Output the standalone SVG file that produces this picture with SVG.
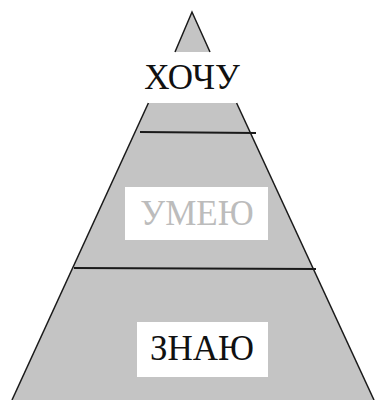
<svg xmlns="http://www.w3.org/2000/svg" width="380" height="400" viewBox="0 0 380 400">
<style>
.fill{fill:#c4c4c4;stroke:none}
.edge{stroke:#1a1a1a;stroke-width:1.5;fill:none}
.div{stroke:#1a1a1a;stroke-width:2}
.box{fill:#ffffff}
.lbl{font-family:"Liberation Serif","Times New Roman",serif;font-size:35px;text-anchor:middle}
</style>
<rect width="380" height="400" fill="#ffffff"/>
<g id="khochu">
<polygon class="fill" points="192,12 175,52 210,52"/>
<polyline class="edge" points="175,52 192,12 210,52"/>
<polygon class="fill" points="148.4,103 236.6,103 250,132 135,132"/>
<text class="lbl" x="192" y="89" fill="#111111">ХОЧУ</text>
</g>
<g id="umeyu">
<polygon class="fill" points="135,132 250,132 313,268 72.5,268"/>
<rect class="box" x="125" y="187" width="143" height="53"/>
<text class="lbl" x="197" y="225" fill="#bcbcbc">УМЕЮ</text>
</g>
<g id="znayu">
<polygon class="fill" points="72.5,268 313,268 374,400 12,400"/>
<rect class="box" x="137" y="322" width="131" height="55"/>
<text class="lbl" x="202" y="360" fill="#111111">ЗНАЮ</text>
</g>
<g id="connectors">
<line class="edge" x1="148.4" y1="103" x2="12" y2="400"/>
<line class="edge" x1="236.6" y1="103" x2="374" y2="400"/>
<line class="div" x1="140" y1="132" x2="256" y2="133"/>
<line class="div" x1="74" y1="268" x2="316" y2="269"/>
</g>
</svg>
